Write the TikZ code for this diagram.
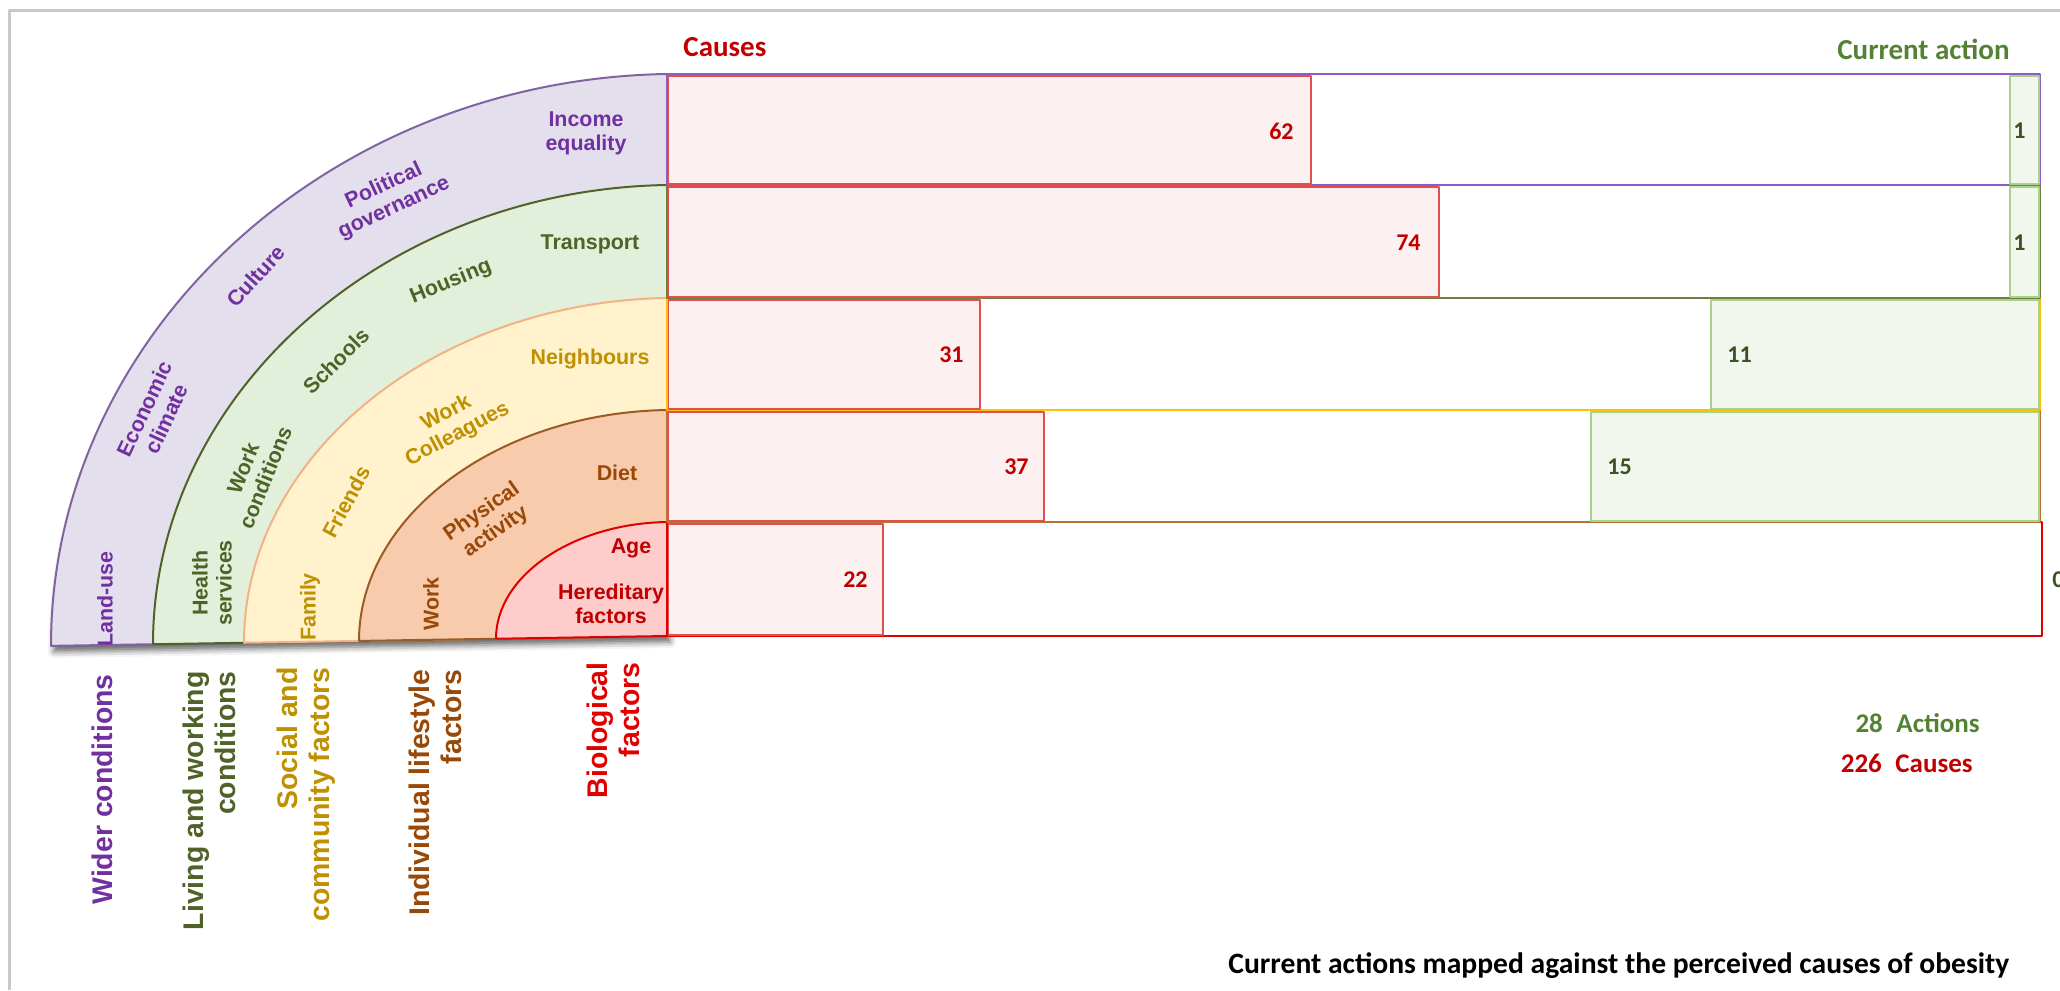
\documentclass[tikz,border=0pt]{standalone}
\usepackage{fontspec}
\setmainfont{Liberation Sans}
\newfontfamily\calib{Carlito}
\usetikzlibrary{shadows.blur}
\definecolor{wpurple}{HTML}{7030A0}
\definecolor{wpurplefill}{HTML}{E4DFEC}
\definecolor{wpurpleline}{HTML}{8064A2}
\definecolor{lgreen}{HTML}{4F6228}
\definecolor{lgreenfill}{HTML}{E2EFDA}
\definecolor{lgreenline}{HTML}{4F6228}
\definecolor{sgold}{HTML}{BF9000}
\definecolor{sgoldfill}{HTML}{FFF2CC}
\definecolor{sgoldline}{HTML}{F4B183}
\definecolor{ibrown}{HTML}{984807}
\definecolor{ibrownfill}{HTML}{F8CBAD}
\definecolor{ibrownline}{HTML}{9C5A24}
\definecolor{bred}{HTML}{C00000}
\definecolor{bredfill}{HTML}{FFCCCC}
\definecolor{bredline}{HTML}{E00000}
\definecolor{causefill}{HTML}{FDF0F0}
\definecolor{causeline}{HTML}{E05050}
\definecolor{actfill}{HTML}{F1F7EC}
\definecolor{actline}{HTML}{A9D18E}
\definecolor{actnum}{HTML}{3B5323}
\definecolor{acthead}{HTML}{548235}
\definecolor{rowone}{HTML}{8E5CC8}
\definecolor{rowtwo}{HTML}{6E7F3E}
\definecolor{rowthree}{HTML}{FFC000}
\definecolor{rowfour}{HTML}{B87333}
\definecolor{framegray}{HTML}{C8C8C8}

\begin{document}
\begin{tikzpicture}[x=0.5pt,y=-0.5pt,line join=bevel,
  ring/.style={line width=1pt},
  seg/.style={font=\bfseries\fontsize{10.7}{12}\selectfont,align=center,inner sep=0pt},
  grp/.style={font=\bfseries\fontsize{14.2}{16}\selectfont,align=right,inner sep=0pt,rotate=90,anchor=east},
  cnum/.style={font=\calib\bfseries\fontsize{12}{14}\selectfont,text=bred,anchor=east,inner sep=0pt},
  anum/.style={font=\calib\bfseries\fontsize{12}{14}\selectfont,text=actnum,anchor=west,inner sep=0pt},
  head/.style={font=\calib\bfseries\fontsize{14.5}{17}\selectfont,inner sep=0pt},
  total/.style={font=\calib\bfseries\fontsize{13.5}{16}\selectfont,inner sep=0pt,anchor=east},
  rowbox/.style={fill=white,line width=1pt},
  causebox/.style={fill=causefill,draw=causeline,line width=0.8pt},
  actbox/.style={fill=actfill,draw=actline,line width=0.8pt},
]
\clip (0,0) rectangle (2060,990);
\draw[framegray,line width=1.5pt] (9.5,990) -- (9.5,11) -- (2060,11);

% rings
\begin{scope}[shift={(667,636)},cm={1,0.016,0,1,(0,0)}]
  \path[fill=wpurplefill,draw=wpurpleline,ring,blur shadow={shadow xshift=1.5pt,shadow yshift=-3pt,shadow blur radius=3pt,shadow opacity=60}]
    (0,0) -- (-616,0) arc[start angle=180,end angle=270,x radius=616,y radius=562] -- cycle;
  \path[fill=lgreenfill,draw=lgreenline,ring] (0,0) -- (-514,0) arc[start angle=180,end angle=270,x radius=514,y radius=451] -- cycle;
  \path[fill=sgoldfill,draw=sgoldline,ring] (0,0) -- (-423,0) arc[start angle=180,end angle=270,x radius=423,y radius=338] -- cycle;
  \path[fill=ibrownfill,draw=ibrownline,ring] (0,0) -- (-308,0) arc[start angle=180,end angle=270,x radius=308,y radius=226] -- cycle;
  \path[fill=bredfill,draw=bredline,ring] (0,0) -- (-171,0) arc[start angle=180,end angle=270,x radius=171,y radius=114] -- cycle;
\end{scope}

\node (inc) [seg,text=wpurple] at (586,133) {Income\\equality};
\node (pol) [seg,text=wpurple,rotate=25] at (389,197) {Political\\governance};
\node (cul) [seg,text=wpurple,rotate=48] at (256,276) {Culture};
\node (eco) [seg,text=wpurple,rotate=65] at (155,414) {Economic\\climate};
\node (land) [seg,text=wpurple,rotate=90] at (105,599) {Land-use};
\node (trans) [seg,text=lgreen] at (590,244) {Transport};
\node (hous) [seg,text=lgreen,rotate=22] at (451,282) {Housing};
\node (school) [seg,text=lgreen,rotate=45] at (336,361) {Schools};
\node (workc) [seg,text=lgreen,rotate=68] at (254,473) {Work\\conditions};
\node (health) [seg,text=lgreen,rotate=90] at (212,583) {Health\\services};
\node (neigh) [seg,text=sgold] at (590,359) {Neighbours};
\node (coll) [seg,text=sgold,rotate=28] at (452,424) {Work\\Colleagues};
\node (friend) [seg,text=sgold,rotate=62] at (346,502) {Friends};
\node (fam) [seg,text=sgold,rotate=90] at (310,607) {Family};
\node (diet) [seg,text=ibrown] at (617,473) {Diet};
\node (phys) [seg,text=ibrown,rotate=35] at (489,522) {Physical\\activity};
\node (work) [seg,text=ibrown,rotate=90] at (431,604) {Work};
\node (age) [seg,text=bred] at (631,548) {Age};
\node (her) [seg,text=bred] at (611,604) {Hereditary\\factors};

\node (wider) [grp,text=wpurple] at (102,674) {Wider conditions};
\node (living) [grp,text=lgreen] at (209,671) {Living and working\\conditions};
\node (social) [grp,text=sgold] at (306,667) {Social and\\community factors};
\node (indiv) [grp,text=ibrown] at (435,669) {Individual lifestyle\\factors};
\node (bio) [grp,text=bredline] at (613,662) {Biological\\factors};

% bars, bottom row first
\draw[rowbox,draw=bredline] (667,522) rectangle (2042,636);
\draw[causebox] (668.5,524) rectangle (883,635);
\draw[rowbox,draw=rowfour] (667,410) rectangle (2040,522);
\draw[causebox] (668.5,412) rectangle (1044,521);
\draw[actbox] (1591,412) rectangle (2039,521);
\draw[rowbox,draw=rowthree] (667,298) rectangle (2040,410);
\draw[causebox] (668.5,300) rectangle (980,409);
\draw[actbox] (1711,300) rectangle (2039,409);
\draw[rowbox,draw=rowtwo] (667,185) rectangle (2040,298);
\draw[causebox] (668.5,187) rectangle (1439,297);
\draw[actbox] (2010,187) rectangle (2039,297);
\draw[rowbox,draw=rowone] (667,74) rectangle (2040,185);
\draw[causebox] (668.5,76) rectangle (1311,184);
\draw[actbox] (2010,76) rectangle (2039,184);

\node (c1) [cnum] at (1294,131) {62};
\node (c2) [cnum] at (1421,243) {74};
\node (c3) [cnum] at (964,355) {31};
\node (c4) [cnum] at (1029,467) {37};
\node (c5) [cnum] at (868,580) {22};
\node (a1) [anum] at (2013,131) {1};
\node (a2) [anum] at (2013,243) {1};
\node (a3) [anum] at (1727,355) {11};
\node (a4) [anum] at (1607,467) {15};
\node (a5) [anum] at (2052,580) {0};

\node (causes) [head,anchor=west,text=bred] at (683,47) {Causes};
\node (curact) [head,anchor=east,text=acthead] at (2010,49) {Current action};
\node (nact) [total,text=acthead] at (1980,723) {28\enspace Actions};
\node (ncause) [total,text=bred] at (1973,763) {226\enspace Causes};
\node (title) [anchor=west,inner sep=0pt,font=\calib\bfseries\fontsize{14.8}{17}\selectfont] at (1228,966) {Current actions mapped against the perceived causes of obesity};
\end{tikzpicture}
\end{document}
